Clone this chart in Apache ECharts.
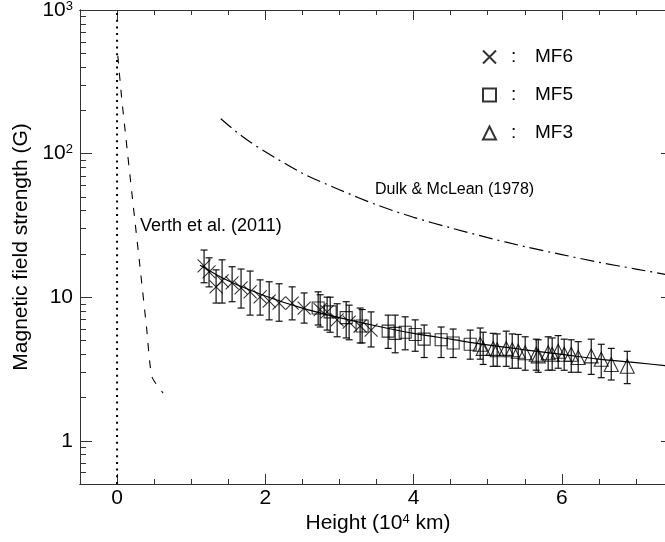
<!DOCTYPE html>
<html><head><meta charset="utf-8">
<script src="https://cdn.jsdelivr.net/npm/echarts@6/dist/echarts.min.js"></script>
<style>html,body{margin:0;padding:0;background:#fff}#c{width:665px;height:542px}</style>
</head><body><div id="c"></div>
<script>
// ---- data (height in 10^4 km, field in G) ----
const mf6H  = [1.174,1.241,1.336,1.417,1.552,1.673,1.795,1.930,2.052,2.186,2.362,2.524,2.740,2.834,2.969,3.131,3.279,3.427];
const mf6B  = [16.5,15.0,11.8,13.0,12.6,11.6,10.9,10.05,9.4,9.1,9.1,8.4,8.2,7.9,6.95,6.7,6.3,5.9];
const mf6Lo = [12.6,11.8,9.1,9.1,9.3,8.4,7.5,7.5,6.95,6.8,6.95,6.6,6.2,5.9,5.3,5.05,4.8,4.5];
const mf6Hi = [21.3,18.8,15.5,18.2,16.3,15.7,15.2,13.2,12.8,12.4,11.8,10.7,10.4,10.0,9.0,8.8,8.4,7.9];

const mf5H  = [2.713,2.875,3.091,3.306,3.657,3.752,3.887,4.022,4.143,4.372,4.534,4.764];
const mf5B  = [8.4,7.9,7.2,6.3,5.8,5.6,5.7,5.5,5.1,5.05,4.8,4.7];
const mf5Lo = [6.4,5.7,5.2,4.8,4.4,4.1,4.3,4.2,3.8,3.8,3.8,3.7];
const mf5Hi = [10.9,10.0,9.3,8.2,7.5,7.5,7.3,6.95,6.4,6.2,6.0,5.9];

const mf3H  = [4.899,4.939,5.074,5.128,5.250,5.331,5.412,5.506,5.655,5.682,5.816,5.870,5.951,6.032,6.127,6.221,6.397,6.532,6.667,6.883];
const mf3B  = [4.7,4.4,4.4,4.3,4.4,4.3,4.2,4.1,4.0,3.9,4.1,4.0,4.2,4.0,4.0,3.8,3.9,3.7,3.4,3.3];
const mf3Lo = [3.7,3.4,3.3,3.3,3.3,3.2,3.2,3.1,3.1,3.0,3.1,3.1,3.2,3.1,3.0,3.0,2.9,2.75,2.65,2.5];
const mf3Hi = [6.1,5.7,5.6,5.55,5.8,5.55,5.5,5.3,5.1,5.05,5.3,5.2,5.4,5.1,5.05,4.9,5.1,4.7,4.4,4.2];

const fitH  = [1.12,1.5,2,2.5,3,3.5,4,4.5,5,5.5,6,6.5,7,7.5];
const fitB  = [16.7,13.0,10.2,8.4,7.2,6.3,5.6,5.1,4.65,4.3,4.0,3.7,3.5,3.3];

const dulkH = [1.4,1.6,1.8,2,2.5,3,3.5,4,4.5,5,5.5,6,6.5,7,7.5];
const dulkB = [175,143,120,103,73,56,44,36,30.4,26,22.5,19.8,17.5,15.7,14.1];

const verthH = [0.01,0.06,0.12,0.2,0.3,0.4,0.47,0.62];
const verthB = [480,250,128,53,18,6.0,2.8,2.15];

const zeroLineH = [0,0];
const zeroLineB = [0.5,1000];

const xMajor = [0,2,4,6];
const xMinor = [-0.5,0.5,1,1.5,2.5,3,3.5,4.5,5,5.5,6.5,7,7.5];
const yMajor = [1,10,100,1000];
const yMinor = [0.5,0.6,0.7,0.8,0.9,2,3,4,5,6,7,8,9,20,30,40,50,60,70,80,90,200,300,400,500,600,700,800,900];

const seriesNames = ['MF6','MF5','MF3'];
const labelVerth = 'Verth et al. (2011)';
const labelDulk = 'Dulk & McLean (1978)';

// ---- chart ----
const FONT = 'Liberation Sans, Arial, Helvetica, sans-serif';
const chart = echarts.init(document.getElementById('c'), null, {renderer:'canvas'});
const zip = (a,b) => a.map((v,i)=>[v,b[i]]);
const zip3 = (a,b,c) => a.map((v,i)=>[v,b[i],c[i]]);

function errRender(params, api) {
  const x = api.value(0);
  const top = api.coord([x, api.value(2)]);
  const bot = api.coord([x, api.value(1)]);
  const w = 3.5;
  const st = {stroke:'#111', lineWidth:1.2};
  return {type:'group', children:[
    {type:'line', shape:{x1:top[0], y1:top[1], x2:bot[0], y2:bot[1]}, style:st},
    {type:'line', shape:{x1:top[0]-w, y1:top[1], x2:top[0]+w, y2:top[1]}, style:st},
    {type:'line', shape:{x1:bot[0]-w, y1:bot[1], x2:bot[0]+w, y2:bot[1]}, style:st}
  ]};
}
function errSeries(h, lo, hi) {
  return {type:'custom', renderItem:errRender, data:zip3(h,lo,hi),
    encode:{x:0, y:[1,2]}, silent:true, z:2};
}
const symStyle = {color:'rgba(0,0,0,0)', borderColor:'#000', borderWidth:1.1};

const xBase = {type:'value', min:-0.5, max:7.5, splitLine:{show:false}, gridIndex:0};
const yBase = {type:'log', logBase:10, min:0.5, max:1000, splitLine:{show:false}, gridIndex:0};
const axisLine = {show:true, onZero:false, lineStyle:{color:'#333', width:1}};
const tickStyle = {color:'#333', width:1};

const option = {
  animation:false,
  backgroundColor:'#fff',
  grid:{left:80, top:10, width:593, height:474, containLabel:false, outerBoundsMode:'none'},
  xAxis:[
    Object.assign({}, xBase, {position:'bottom', axisLine:axisLine,
      axisTick:{inside:true, length:10, customValues:xMajor, lineStyle:tickStyle},
      axisLabel:{customValues:xMajor, fontSize:21, color:'#000', margin:4, fontFamily:FONT}}),
    Object.assign({}, xBase, {position:'bottom', axisLine:axisLine,
      axisTick:{inside:true, length:5, customValues:xMinor, lineStyle:tickStyle},
      axisLabel:{show:false}}),
    Object.assign({}, xBase, {position:'top', axisLine:axisLine,
      axisTick:{inside:true, length:10, customValues:xMajor, lineStyle:tickStyle},
      axisLabel:{show:false}}),
    Object.assign({}, xBase, {position:'top', axisLine:axisLine,
      axisTick:{inside:true, length:5, customValues:xMinor, lineStyle:tickStyle},
      axisLabel:{show:false}})
  ],
  yAxis:[
    Object.assign({}, yBase, {position:'left', axisLine:axisLine,
      axisTick:{inside:true, length:12, customValues:yMajor, lineStyle:tickStyle},
      axisLabel:{customValues:yMajor, margin:7, color:'#000',
        formatter:function(v){ const e = Math.round(Math.log10(v));
          if (e >= 2) return '{b|10}{s|' + e + '}';
          return '{b|' + Math.round(v) + '}'; },
        rich:{b:{fontSize:21, fontFamily:FONT, color:'#000'},
              s:{fontSize:13, fontFamily:FONT, color:'#000', verticalAlign:'top', padding:[0,0,6,0]}}}}),
    Object.assign({}, yBase, {position:'left', axisLine:axisLine,
      axisTick:{inside:true, length:6, customValues:yMinor, lineStyle:tickStyle},
      axisLabel:{show:false}}),
    Object.assign({}, yBase, {position:'right', axisLine:axisLine,
      axisTick:{inside:true, length:12, customValues:yMajor, lineStyle:tickStyle},
      axisLabel:{show:false}}),
    Object.assign({}, yBase, {position:'right', axisLine:axisLine,
      axisTick:{inside:true, length:6, customValues:yMinor, lineStyle:tickStyle},
      axisLabel:{show:false}})
  ],
  legend:{
    data:seriesNames, orient:'vertical', left:477, top:42, itemWidth:13, itemHeight:13,
    itemGap:18, selectedMode:false,
    formatter:function(n){ return '{c|:}{n|' + n + '}'; },
    textStyle:{fontSize:19, fontFamily:FONT, color:'#000', lineHeight:20,
      rich:{c:{width:24, padding:[0,0,0,10], fontSize:19, fontFamily:FONT},
            n:{fontSize:19, fontFamily:FONT}}}
  },
  series:[
    {type:'line', name:'zero', data:zip(zeroLineH, zeroLineB), showSymbol:false, silent:true,
      lineStyle:{color:'#000', width:2, type:[2,4.7]}},
    {type:'line', name:'Verth', data:zip(verthH, verthB), showSymbol:false, silent:true, smooth:0.2,
      lineStyle:{color:'#000', width:1.1, type:[8,9]}},
    {type:'line', name:'Dulk', data:zip(dulkH, dulkB), showSymbol:false, silent:true, smooth:0.3,
      lineStyle:{color:'#000', width:1.2, type:[14,5,2,5]}},
    {type:'line', name:'fit', data:zip(fitH, fitB), showSymbol:false, silent:true, smooth:0.3,
      lineStyle:{color:'#000', width:1.2}},
    errSeries(mf6H, mf6Lo, mf6Hi),
    errSeries(mf5H, mf5Lo, mf5Hi),
    errSeries(mf3H, mf3Lo, mf3Hi),
    {type:'scatter', name:'MF6', data:zip(mf6H, mf6B), symbol:'path://M0,0L10,10M10,0L0,10',
      symbolSize:13, itemStyle:symStyle, z:3},
    {type:'scatter', name:'MF5', data:zip(mf5H, mf5B), symbol:'rect',
      symbolSize:12, itemStyle:symStyle, z:3},
    {type:'scatter', name:'MF3', data:zip(mf3H, mf3B), symbol:'triangle',
      symbolSize:14, itemStyle:symStyle, z:3}
  ],
  graphic:[
    {type:'text', x:21, y:247, rotation:Math.PI/2,
      style:{text:'Magnetic field strength (G)', align:'center', verticalAlign:'middle',
        fontSize:21, fontFamily:FONT, fill:'#000'}},
    {type:'text', x:378, y:523,
      style:{text:'{a|Height (10}{s|4}{a| km)}', align:'center', verticalAlign:'middle',
        fontFamily:FONT, fill:'#000',
        rich:{a:{fontSize:21, fontFamily:FONT}, s:{fontSize:13, fontFamily:FONT, verticalAlign:'top'}}}},
    {type:'text', x:140, y:226,
      style:{text:labelVerth, align:'left', verticalAlign:'middle', fontSize:18, fontFamily:FONT, fill:'#000'}},
    {type:'text', x:375, y:190,
      style:{text:labelDulk, align:'left', verticalAlign:'middle', fontSize:16, fontFamily:FONT, fill:'#000'}}
  ]
};
chart.setOption(option);
</script>
</body></html>
